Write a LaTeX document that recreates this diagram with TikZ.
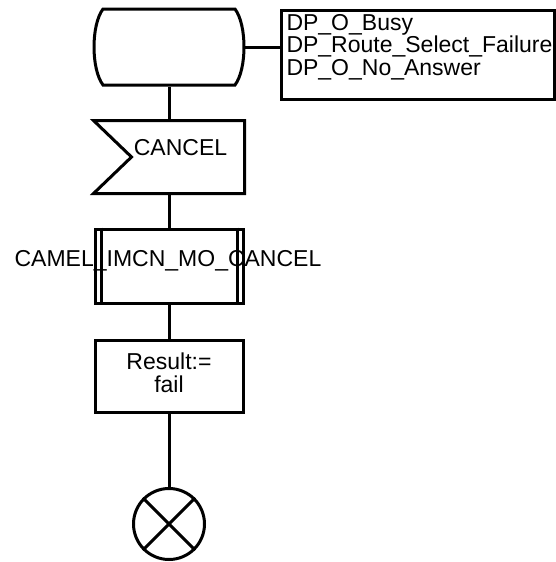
\documentclass[tikz,border=0pt]{standalone}
\usepackage{fontspec}
\setmainfont{Liberation Sans}
\begin{document}
\begin{tikzpicture}[x=1pt,y=-1pt,line width=3pt,
  every node/.style={font=\fontsize{23}{22.5}\selectfont},
  txt/.style={inner sep=0pt},
  sdlbox/.style={draw,minimum width=148pt,minimum height=#1,inner sep=0pt},
  hidden/.style={minimum width=148pt,minimum height=#1,inner sep=0pt},
  link/.style={draw,line width=3pt}]
\useasboundingbox (0,0) rectangle (555,562);

% state symbol
\node[hidden=76pt] (state) at (169,47) {};
\draw (103,9) -- (235,9) .. controls (247,25) and (247,69) .. (235,85)
      -- (103,85) .. controls (91,69) and (91,25) .. (103,9) -- cycle;

% comment box
\node[draw,minimum width=273pt,minimum height=89pt,inner sep=0pt,anchor=north west] (dp) at (280,9) {};
\node[txt,anchor=north west,align=left] (dptext) at (285,12.5)
  {DP\_O\_Busy\\DP\_Route\_Select\_Failure\\DP\_O\_No\_Answer};
\draw[link] (state.east) -- (state.east -| dp.west);

% input signal CANCEL
\node[hidden=70pt] (cancel) at (169,157) {};
\draw (cancel.north west) -- (cancel.north east) -- (cancel.south east)
      -- (cancel.south west) -- ([xshift=38pt]cancel.west) -- cycle;
\node[txt,anchor=base] (canceltext) at (180.5,155) {CANCEL};
\draw[link] (state.south) -- (cancel.north);

% procedure call
\node[sdlbox=74pt] (proc) at (169,266) {};
\draw ([xshift=8pt]proc.north west) -- ([xshift=8pt]proc.south west);
\draw ([xshift=-7pt]proc.north east) -- ([xshift=-7pt]proc.south east);
\node[txt,anchor=base] (proctext) at (168,266) {CAMEL\_IMCN\_MO\_CANCEL};
\draw[link] (cancel.south) -- (proc.north);

% task
\node[sdlbox=72pt] (result) at (169,376) {};
\node[txt,anchor=north,align=center] (resulttext) at (169,351.5) {Result:=\\fail};
\draw[link] (proc.south) -- (result.north);

% stop
\node[draw,circle,minimum size=71pt,inner sep=0pt] (stop) at (169,524) {};
\draw (stop.north west) -- (stop.south east);
\draw (stop.north east) -- (stop.south west);
\draw[link] (result.south) -- (stop.north);
\end{tikzpicture}
\end{document}
